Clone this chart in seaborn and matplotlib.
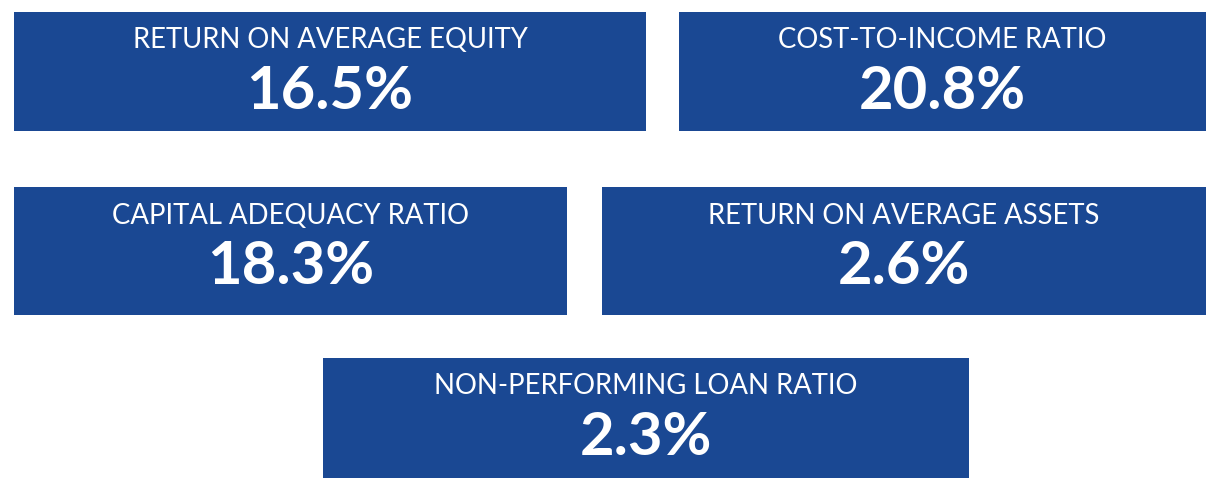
import matplotlib
matplotlib.use("Agg")
import matplotlib.pyplot as plt
from matplotlib.patches import Rectangle
import seaborn as sns

# kpi tiles
labels = ["RETURN ON AVERAGE EQUITY", "COST-TO-INCOME RATIO", "CAPITAL ADEQUACY RATIO",
          "RETURN ON AVERAGE ASSETS", "NON-PERFORMING LOAN RATIO"]
values = [16.5, 20.8, 18.3, 2.6, 2.3]

# tile layout in pixels: left, top, right, bottom
boxes = [(14, 12, 646, 131), (679, 12, 1206, 131),
         (14, 187, 567, 315), (602, 187, 1206, 315),
         (323, 358, 969, 478)]

tile_color = "#1a4893"

sns.set_theme(style="white")
plt.rcParams['font.family'] = ['Lato', 'DejaVu Sans']

fig = plt.figure(figsize=(12.17, 4.8), dpi=100)
ax = fig.add_axes([0, 0, 1, 1])
ax.set_xlim(0, 1217)
ax.set_ylim(480, 0)
ax.axis("off")

for lab, val, (x0, y0, x1, y1) in zip(labels, values, boxes):
    ax.add_patch(Rectangle((x0, y0), x1 - x0, y1 - y0, color=tile_color, lw=0))
    cx = (x0 + x1) / 2
    ax.text(cx, y0 + 28.5, lab, color="white", fontsize=19.8, ha="center", va="center")
    ax.text(cx, y0 + 80, f"{val:.1f}%", color="white", fontsize=43, fontweight="bold",
            ha="center", va="center")

fig.savefig("out.png", dpi=100, facecolor="white")
